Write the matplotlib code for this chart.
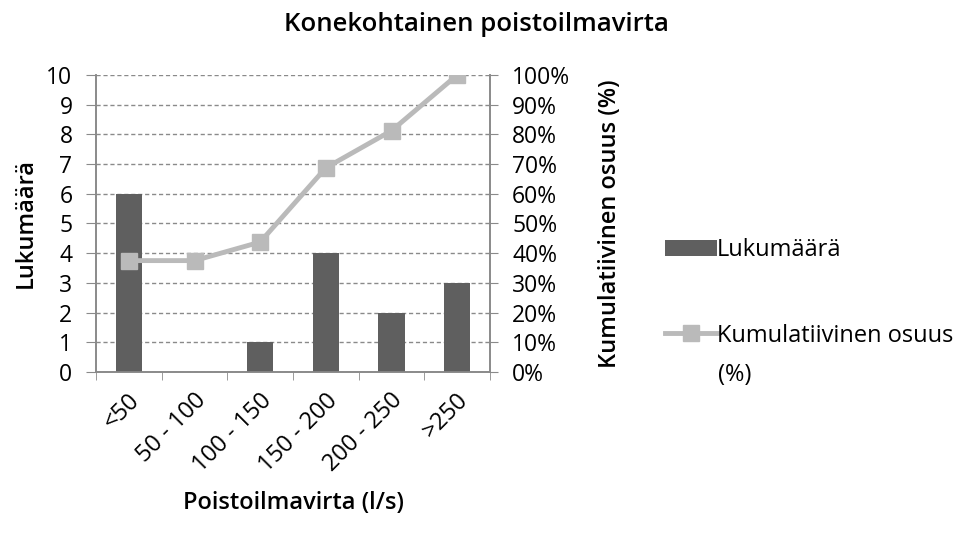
import numpy as np
import matplotlib
matplotlib.use("Agg")
from matplotlib import pyplot as plt
from matplotlib.ticker import FixedLocator, PercentFormatter

# Data
luokat = ["<50", "50 - 100", "100 - 150", "150 - 200", "200 - 250", ">250"]
lukumaara = [6, 0, 1, 4, 2, 3]
kumulatiivinen = [0.375, 0.375, 0.4375, 0.6875, 0.8125, 1.0]

plt.rcParams["font.family"] = ["Open Sans", "DejaVu Sans"]

BAR_COLOR = "#5f5f5f"
LINE_COLOR = "#bababa"
AXIS_COLOR = "#8a8a8a"

fig = plt.figure(figsize=(9.65, 5.42), dpi=100)
ax = fig.add_axes([0.0995, 0.3137, 0.4083, 0.5479])
ax2 = ax.twinx()

x = np.arange(len(luokat))
ax.bar(x, lukumaara, width=0.4, color=BAR_COLOR, label="Lukumäärä", zorder=3)
ax2.plot(x, kumulatiivinen, color=LINE_COLOR, linewidth=3.5, marker="s",
         markersize=12, label="Kumulatiivinen osuus", zorder=4)

ax.set_xlim(-0.5, len(luokat) - 0.5)
ax.set_ylim(0, 10)
ax2.set_ylim(0, 1)
ax.set_yticks(range(0, 11))
ax2.set_yticks(np.linspace(0, 1, 11))
ax2.yaxis.set_major_formatter(PercentFormatter(1.0, decimals=0))

# gridlines
ax.yaxis.grid(True, linestyle=(0, (3, 2)), color=AXIS_COLOR, linewidth=1)
ax.set_axisbelow(True)

# x ticks: labels at centers, marks at boundaries
ax.set_xticks(x + 0.12)
ax.set_xticklabels(luokat, rotation=45, ha="right", va="center",
                   rotation_mode="anchor")
ax.xaxis.set_minor_locator(FixedLocator(np.arange(-0.5, len(luokat), 1)))
ax.tick_params(axis="x", which="major", length=0, pad=18, labelsize=17)
ax.tick_params(axis="x", which="minor", length=6, color=AXIS_COLOR, direction="out")
ax.tick_params(axis="y", length=7, color=AXIS_COLOR, labelsize=16.5, pad=10)
ax2.tick_params(axis="y", length=6, color=AXIS_COLOR, labelsize=16.5, pad=10)

for a in (ax, ax2):
    a.spines["top"].set_visible(False)
    for s in ("left", "right", "bottom"):
        a.spines[s].set_color(AXIS_COLOR)
        a.spines[s].set_linewidth(1.2)

ax.set_xlabel("Poistoilmavirta (l/s)", fontsize=17, fontweight="semibold", labelpad=10)
ax.set_ylabel("Lukumäärä", fontsize=17, fontweight="semibold", labelpad=6)
ax2.set_ylabel("Kumulatiivinen osuus (%)", fontsize=17, fontweight="semibold", labelpad=20)

fig.suptitle("Konekohtainen poistoilmavirta", x=0.494, y=0.954, va="center",
             fontsize=18.5, fontweight="semibold")

handles = ax.get_legend_handles_labels()[0] + ax2.get_legend_handles_labels()[0]
labels = ax.get_legend_handles_labels()[1] + ax2.get_legend_handles_labels()[1]
fig.legend(handles, labels, loc="upper left", bbox_to_anchor=(0.677, 0.582),
           frameon=False, fontsize=17, handlelength=2.2, handletextpad=0.0,
           labelspacing=2.6, borderpad=0)
fig.text(0.744, 0.308, "(%)", fontsize=17, va="center", ha="left")

fig.savefig("out.png", dpi=100)
